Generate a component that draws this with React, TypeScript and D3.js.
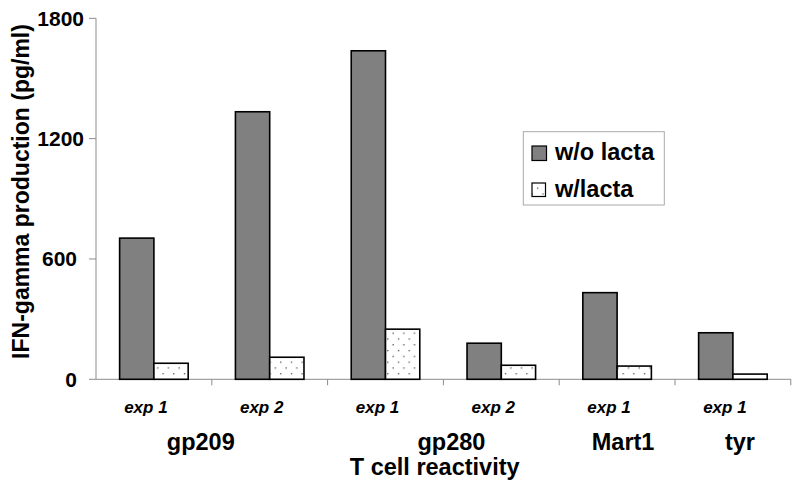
import React from "react";
import * as d3 from "d3";

const categories = ["exp 1", "exp 2", "exp 1", "exp 2", "exp 1", "exp 1"];
const woLacta = [704, 1334, 1638, 180, 432, 232];
const wLacta = [80, 110, 250, 70, 66, 26];
const groupNames = ["gp209", "gp280", "Mart1", "tyr"];
const groupStart = [0, 2, 4, 5];
const groupEnd = [1, 3, 4, 5];
const yTicks = [0, 600, 1200, 1800];
const seriesNames = ["w/o lacta", "w/lacta"];

const W = 800;
const H = 489;
const FONT = "'Liberation Sans', Arial, sans-serif";
const groupDx = [-11, 8, 6, 7];

export default function App() {
  const y = d3.scaleLinear().domain([0, 1800]).range([379.3, 18.3]);
  const x = d3
    .scaleBand<number>()
    .domain(categories.map((_, i) => i))
    .range([96, 790.8])
    .padding(0);
  const bw = x.bandwidth();
  const barW = bw * 0.296;
  const axisColor = "#8c8c8c";
  const y0 = y(0);

  return (
    <svg
      width={W}
      height={H}
      style={{ position: "absolute", left: 0, top: 0, background: "#fff" }}
      fontFamily={FONT}
    >
      <defs>
        <pattern id="dots" patternUnits="userSpaceOnUse" width={10.7} height={11.6}>
          <rect x={0} y={0} width={10.7} height={11.6} fill="#fff" />
          <rect x={2} y={2} width={1.2} height={1.2} fill="#333" />
          <rect x={7.35} y={7.8} width={1.2} height={1.2} fill="#333" />
        </pattern>
      </defs>
      <rect x={0} y={0} width={W} height={H} fill="#fff" />

      {/* axes */}
      <line x1={96} x2={96} y1={y(1800)} y2={y0} stroke={axisColor} strokeWidth={1} />
      {yTicks.map((t) => (
        <line key={"yt" + t} x1={89} x2={96} y1={y(t)} y2={y(t)} stroke={axisColor} strokeWidth={1} />
      ))}
      <line x1={96} x2={791} y1={y0} y2={y0} stroke={axisColor} strokeWidth={1} />
      {categories.map((_, i) => (
        <line
          key={"xt" + i}
          x1={(x(i) as number) + bw}
          x2={(x(i) as number) + bw}
          y1={y0}
          y2={y0 + 6}
          stroke={axisColor}
          strokeWidth={1}
        />
      ))}

      {/* bars */}
      {categories.map((_, i) => {
        const c = (x(i) as number) + bw / 2;
        return (
          <g key={"b" + i}>
            <rect
              x={c - barW}
              y={y(woLacta[i])}
              width={barW}
              height={y0 - y(woLacta[i])}
              fill="#808080"
              stroke="#000"
              strokeWidth={1.6}
            />
            <rect
              x={c}
              y={y(wLacta[i])}
              width={barW}
              height={y0 - y(wLacta[i])}
              fill="url(#dots)"
              stroke="#000"
              strokeWidth={1.6}
            />
          </g>
        );
      })}

      {/* y tick labels */}
      {yTicks.map((t) => (
        <text
          key={"yl" + t}
          x={t >= 1200 ? 84 : 77}
          y={y(t)}
          dy="0.35em"
          textAnchor="end"
          fontSize={21}
          fontWeight="bold"
          fill="#000"
        >
          {t}
        </text>
      ))}

      {/* y axis title */}
      <text
        transform={`translate(28.5, 191.5) rotate(-90)`}
        textAnchor="middle"
        fontSize={23}
        fontWeight="bold"
        fill="#000"
      >
        IFN-gamma production (pg/ml)
      </text>

      {/* category labels */}
      {categories.map((c, i) => (
        <text
          key={"cl" + i}
          x={(x(i) as number) + bw / 2 - 8}
          y={413}
          textAnchor="middle"
          fontSize={17}
          fontWeight="bold"
          fontStyle="italic"
          fill="#000"
        >
          {c}
        </text>
      ))}

      {/* group labels */}
      {groupNames.map((g, i) => {
        const cx = ((x(groupStart[i]) as number) + (x(groupEnd[i]) as number) + bw) / 2;
        return (
          <text
            key={"gl" + i}
            x={cx + groupDx[i]}
            y={450}
            textAnchor="middle"
            fontSize={23.5}
            fontWeight="bold"
            fill="#000"
          >
            {g}
          </text>
        );
      })}

      {/* x axis title */}
      <text x={434.7} y={475} textAnchor="middle" fontSize={23.5} fontWeight="bold" fill="#000">
        T cell reactivity
      </text>

      {/* legend */}
      <rect x={523.3} y={131.7} width={141} height={73.3} fill="#fff" stroke="#aaa" strokeWidth={1} />
      <rect x={532} y={146} width={14.5} height={14.5} fill="#808080" stroke="#000" strokeWidth={1.2} />
      <rect x={532} y={183} width={13.5} height={13.5} fill="url(#dots)" stroke="#000" strokeWidth={1.2} />
      <text x={555} y={160} fontSize={23.5} fontWeight="bold" fill="#000">
        {seriesNames[0]}
      </text>
      <text x={555} y={197} fontSize={23.5} fontWeight="bold" fill="#000">
        {seriesNames[1]}
      </text>
    </svg>
  );
}
